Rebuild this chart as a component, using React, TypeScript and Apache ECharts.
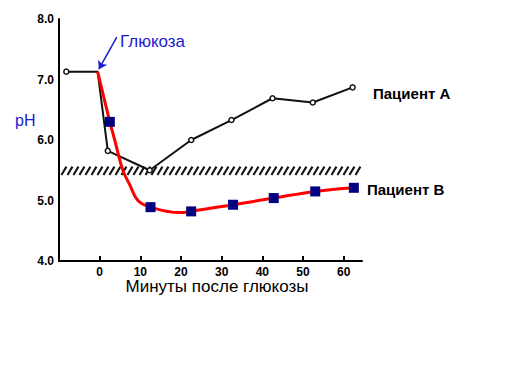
import React, { useEffect, useRef } from "react";
import * as echarts from "echarts";

const xTicks = [0, 10, 20, 30, 40, 50, 60];
const yTicks = [4.0, 5.0, 6.0, 7.0, 8.0];

// Пациент A (open circles)
const patientA: [number, number][] = [
  [-8.2, 7.13],
  [-0.5, 7.13],
  [2.0, 5.82],
  [12.3, 5.5],
  [22.5, 6.0],
  [32.4, 6.33],
  [42.5, 6.69],
  [52.4, 6.62],
  [62.2, 6.87],
];

// Пациент B squares
const patientBPoints: [number, number][] = [
  [2.5, 6.3],
  [12.5, 4.89],
  [22.5, 4.82],
  [32.8, 4.93],
  [42.8, 5.04],
  [53.0, 5.15],
  [62.5, 5.21],
];

// Пациент B red curve
const patientBCurve: [number, number][] = [
  [-0.5, 7.13],
  [2.5, 6.3],
  [3.7, 6.0],
  [5.7, 5.5],
  [7.4, 5.26],
  [9.4, 5.0],
  [12.5, 4.89],
  [19.6, 4.8],
  [22.5, 4.82],
  [32.8, 4.93],
  [42.8, 5.04],
  [53.0, 5.15],
  [62.5, 5.21],
];

// hatched critical band: [xStart, xEnd, yLow, yHigh]
const criticalBand = [[-9.4, 64.4, 5.42, 5.56]];

// glucose arrow: tail, head
const glucoseArrow: [number, number][] = [
  [4.2, 7.7],
  [-0.2, 7.17],
];

export default function App() {
  const ref = useRef<HTMLDivElement>(null);
  useEffect(() => {
    if (!ref.current) return;
    const chart = echarts.init(ref.current, undefined, { renderer: "svg" });
    const font = "Liberation Sans, Arial, sans-serif";
    chart.setOption({
      animation: false,
      backgroundColor: "#ffffff",
      grid: { left: 59, right: 168, top: 19, bottom: 123 },
      xAxis: {
        type: "value",
        min: -10,
        max: 64.5,
        interval: 10,
        splitLine: { show: false },
        axisLine: { show: true, onZero: false, lineStyle: { color: "#000", width: 2 } },
        axisTick: {
          show: true,
          inside: true,
          length: 5,
          customValues: xTicks,
          lineStyle: { color: "#000", width: 2 },
        },
        axisLabel: {
          customValues: xTicks,
          color: "#000",
          fontFamily: font,
          fontSize: 12,
          lineHeight: 11,
          fontWeight: "bold",
          margin: 5,
        },
      },
      yAxis: {
        type: "value",
        min: 4,
        max: 8,
        interval: 1,
        splitLine: { show: false },
        axisLine: { show: true, onZero: false, lineStyle: { color: "#000", width: 2 } },
        axisTick: { show: false },
        axisLabel: {
          customValues: yTicks,
          color: "#000",
          fontFamily: font,
          fontSize: 12,
          fontWeight: "bold",
          margin: 5,
          formatter: (v: number) => v.toFixed(1),
        },
      },
      series: [
        {
          type: "custom",
          z: 1,
          silent: true,
          encode: { x: [0, 1], y: [2, 3] },
          data: criticalBand,
          renderItem: (params: any, api: any) => {
            const p0 = api.coord([api.value(0), api.value(3)]);
            const p1 = api.coord([api.value(1), api.value(2)]);
            const children: any[] = [];
            for (let x = p0[0]; x <= p1[0] - 5; x += 6) {
              children.push({
                type: "line",
                shape: { x1: x, y1: p1[1], x2: x + 5, y2: p0[1] },
                style: { stroke: "#111", lineWidth: 2 },
              });
            }
            return { type: "group", children };
          },
        },
        {
          type: "line",
          name: "Пациент A",
          z: 2,
          data: patientA.map((p, i) =>
            i === 1 ? { value: p, symbol: "none" } : { value: p }
          ),
          symbol: "circle",
          symbolSize: 5,
          showSymbol: true,
          lineStyle: { color: "#111", width: 2 },
          itemStyle: { color: "#fff", borderColor: "#111", borderWidth: 1.5 },
        },
        {
          type: "line",
          name: "Пациент B curve",
          z: 3,
          data: patientBCurve,
          smooth: 0.4,
          showSymbol: false,
          symbol: "none",
          lineStyle: { color: "#ff0000", width: 3 },
          markLine: {
            silent: true,
            symbol: ["none", "arrow"],
            symbolSize: 8,
            label: { show: false },
            lineStyle: { color: "#1a1ad0", width: 1.5, type: "solid" },
            data: [[{ coord: glucoseArrow[0] }, { coord: glucoseArrow[1] }]],
          },
        },
        {
          type: "scatter",
          name: "Пациент B",
          z: 4,
          data: patientBPoints,
          symbol: "rect",
          symbolSize: 10,
          itemStyle: { color: "#000080", opacity: 1 },
        },
      ],
      graphic: [
        {
          type: "text",
          x: 120,
          y: 33,
          style: { text: "Глюкоза", fill: "#1a1ad0", font: `17px ${font}` },
        },
        {
          type: "text",
          x: 15,
          y: 112,
          style: { text: "pH", fill: "#1a1ad0", font: `16px ${font}` },
        },
        {
          type: "text",
          x: 373,
          y: 86,
          style: { text: "Пациент A", fill: "#000", font: `bold 15px ${font}` },
        },
        {
          type: "text",
          x: 367,
          y: 182,
          style: { text: "Пациент B", fill: "#000", font: `bold 15px ${font}` },
        },
        {
          type: "text",
          x: 217,
          y: 278,
          style: {
            text: "Минуты после глюкозы",
            fill: "#000",
            font: `17px ${font}`,
            align: "center",
          },
        },
      ],
    });
    return () => chart.dispose();
  }, []);
  return <div ref={ref} style={{ width: 530, height: 384, margin: -8 }} />;
}
